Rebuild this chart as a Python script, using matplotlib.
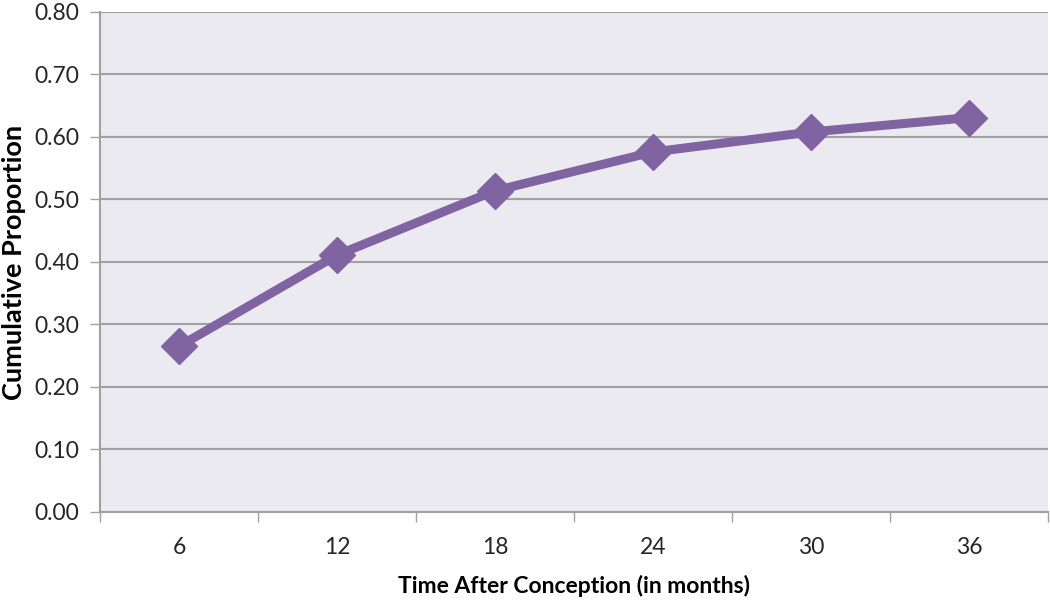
import matplotlib
matplotlib.use("Agg")
import matplotlib.pyplot as plt
from matplotlib.ticker import FixedLocator, NullFormatter

months = [6, 12, 18, 24, 30, 36]
proportion = [0.265, 0.411, 0.514, 0.576, 0.608, 0.631]
yticks = [0.0, 0.1, 0.2, 0.3, 0.4, 0.5, 0.6, 0.7, 0.8]

plt.rcParams['font.family'] = ['Lato', 'DejaVu Sans']

fig = plt.figure(figsize=(10.5, 6.12), dpi=100)
ax = fig.add_axes([0.0952, 0.1634, 0.9028, 0.8170])
ax.set_facecolor('#ECEAF1')

ax.plot(months, proportion, color='#8064A2', lw=6.5, marker='D', ms=18,
        markerfacecolor='#8064A2', markeredgecolor='#8064A2', zorder=3, solid_joinstyle='round')

ax.set_xlim(3, 39)
ax.set_ylim(0, 0.8)
ax.set_yticks(yticks)
ax.set_yticklabels([f"{v:.2f}" for v in yticks])
ax.yaxis.grid(True, color='#A0A0A0', lw=1.5)
ax.set_axisbelow(True)

ax.set_xticks(months)
ax.set_xticklabels([str(m) for m in months])
ax.xaxis.set_minor_locator(FixedLocator([3, 9, 15, 21, 27, 33, 39]))
ax.xaxis.set_minor_formatter(NullFormatter())
ax.tick_params(axis='x', which='major', length=0, pad=18, labelsize=16.5, labelcolor='#262626')
ax.tick_params(axis='x', which='minor', length=7, width=1, color='#A0A0A0', direction='out')
ax.tick_params(axis='y', length=7, width=1, color='#A0A0A0', pad=8, labelsize=16.5, labelcolor='#262626')

for s in ['top', 'right']:
    ax.spines[s].set_visible(False)
for s in ['left', 'bottom']:
    ax.spines[s].set_color('#A0A0A0')
    ax.spines[s].set_linewidth(1.5)

ax.set_xlabel('Time After Conception (in months)', fontsize=16.5, fontweight='bold', labelpad=12)
ax.set_ylabel('Cumulative Proportion', fontsize=19.5, fontweight='bold', labelpad=6)

fig.savefig('out.png', dpi=100)
